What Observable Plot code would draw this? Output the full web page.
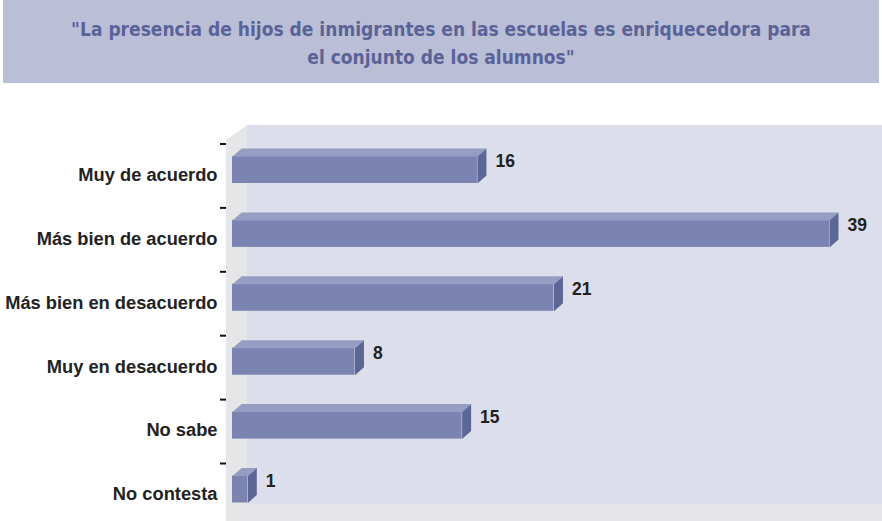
<!DOCTYPE html>
<html>
<head>
<meta charset="utf-8">
<script src="https://cdn.jsdelivr.net/npm/d3@7"></script>
<script src="https://cdn.jsdelivr.net/npm/@observablehq/plot@0.6"></script>
<style>
  html, body { margin: 0; padding: 0; background: #ffffff; }
  #wrap { width: 882px; height: 521px; position: relative; overflow: hidden; }
  #title {
    margin: 0 3px; height: 83px; background: #babed6;
    display: flex; align-items: center; justify-content: center; text-align: center;
    font-family: "DejaVu Sans Condensed", "DejaVu Sans", sans-serif; font-weight: bold;
    font-size: 19px; line-height: 28px; color: #5a6398; padding-top: 2px; box-sizing: border-box;
  }
  #chart svg { display: block; }
</style>
</head>
<body>
<div id="wrap">
  <div id="title">"La presencia de hijos de inmigrantes en las escuelas es enriquecedora para<br>el conjunto de los alumnos"</div>
  <div id="chart"></div>
</div>
<script>
const categories = ["Muy de acuerdo", "Más bien de acuerdo", "Más bien en desacuerdo", "Muy en desacuerdo", "No sabe", "No contesta"];
const values = [16, 39, 21, 8, 15, 1];

const data = categories.map((c, i) => ({category: c, i, value: values[i]}));

// geometry (pixels) of the 3D bars, converted to data units through the scale spans
const X0 = 232, X1 = 829, Y0 = 86.5, Y1 = 406;
const kx = (X1 - X0) / 39, ky = (Y1 - Y0) / 5;
const h = 13.5 / ky;      // half bar height
const ddx = 9 / kx;       // depth in x
const ddy = 8 / ky;       // depth in y

const topFaces = data.flatMap(d => [
  {k: d.category, x: 0, y: d.i - h},
  {k: d.category, x: d.value, y: d.i - h},
  {k: d.category, x: d.value + ddx, y: d.i - h - ddy},
  {k: d.category, x: ddx, y: d.i - h - ddy}
]);
const sideFaces = data.flatMap(d => [
  {k: d.category, x: d.value, y: d.i - h},
  {k: d.category, x: d.value + ddx, y: d.i - h - ddy},
  {k: d.category, x: d.value + ddx, y: d.i + h - ddy},
  {k: d.category, x: d.value, y: d.i + h}
]);

const chart = Plot.plot({
  width: 882,
  height: 438,
  marginLeft: X0,
  marginRight: 882 - X1,
  marginTop: 0,
  marginBottom: 0,
  x: {domain: [0, 39], range: [X0, X1], axis: null},
  y: {domain: [0, 5], range: [Y0, Y1], axis: null},
  style: {background: "transparent", fontFamily: "'Liberation Sans', Arial, sans-serif", overflow: "visible"},
  marks: [
    Plot.rect(data, {x1: d => 0, x2: "value", y1: d => d.i - h, y2: d => d.i + h, fill: "#7b84b0"}),
    Plot.line(topFaces, {x: "x", y: "y", z: "k", fill: "#969dc3", stroke: "none"}),
    Plot.line(sideFaces, {x: "x", y: "y", z: "k", fill: "#5d6797", stroke: "none"}),
    Plot.text(data, {x: d => d.value + ddx, y: d => d.i - h, text: d => String(d.value), textAnchor: "start", dx: 9, dy: 5, fontSize: 17.5, fontWeight: "bold", fill: "#222222"}),
    Plot.text(data, {x: d => 0, y: "i", text: "category", textAnchor: "end", dx: -15, dy: 5, fontSize: 18.3, fontWeight: "bold", fill: "#222222"}),
    Plot.ruleY(data, {y: "i", x1: d => -12 / kx, x2: d => -6 / kx, dy: -26, stroke: "#111111", strokeWidth: 2})
  ]
});

// 3D backdrop (walls and floor) behind the marks
const svg = d3.select(chart);
const bg = svg.insert("g", ":first-child");
bg.append("path")
  .attr("d", "M226,57 L247,42 L247,421 L882,421 L882,438 L226,438 Z")
  .attr("fill", "#e6e6e9");
bg.append("rect")
  .attr("x", 247).attr("y", 42).attr("width", 635).attr("height", 379)
  .attr("fill", "#dcdeeb");

document.getElementById("chart").appendChild(chart);
</script>
</body>
</html>
